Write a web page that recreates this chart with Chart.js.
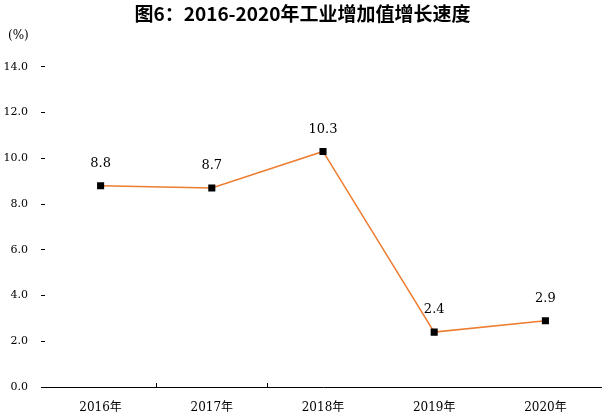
<!DOCTYPE html>
<html>
<head>
<meta charset="utf-8">
<script src="https://cdn.jsdelivr.net/npm/chart.js@4.4.1/dist/chart.umd.min.js"></script>
<style>
  body { margin: 0; background: #fff; }
  #box { width: 606px; height: 417px; }
</style>
</head>
<body>
<div id="box"><canvas id="myChart"></canvas></div>
<script>
// values
const years = ["2016年", "2017年", "2018年", "2019年", "2020年"];
const growth = [8.8, 8.7, 10.3, 2.4, 2.9];
const yTicks = [0, 2, 4, 6, 8, 10, 12, 14];

// value labels above each point, plus the unit at the top left
const valueLabels = {
	id: 'valueLabels',
	afterDatasetsDraw(chart) {
		const ctx = chart.ctx;
		const meta = chart.getDatasetMeta(0);
		ctx.save();
		ctx.font = '13px "DejaVu Serif"';
		ctx.fillStyle = '#000';
		ctx.textAlign = 'center';
		ctx.textBaseline = 'middle';
		meta.data.forEach(function(pt, i) {
			ctx.fillText(growth[i].toFixed(1), pt.x, pt.y - 22);
		});
		ctx.font = '12px "DejaVu Serif"';
		ctx.textAlign = 'left';
		ctx.fillText('(%)', 8, 36);
		ctx.restore();
	}
};

// the short upward ticks on the x axis, as in the original (only the first two show)
const innerTicks = {
	id: 'innerTicks',
	afterDraw(chart) {
		const x = chart.scales.x;
		const ctx = chart.ctx;
		ctx.save();
		ctx.strokeStyle = '#000';
		ctx.lineWidth = 1;
		for (let i = 0; i < 2; i++) {
			const px = Math.round((x.getPixelForValue(i) + x.getPixelForValue(i + 1)) / 2) + 0.5;
			ctx.beginPath();
			ctx.moveTo(px, x.top);
			ctx.lineTo(px, x.top - 4);
			ctx.stroke();
		}
		ctx.restore();
	}
};

const ctx = document.getElementById("myChart").getContext("2d");
const myChart = new Chart(ctx, {
	type: 'line',
	data: {
		labels: years,
		datasets: [{
			data: growth,
			borderColor: '#ED7D31',
			borderWidth: 1.5,
			tension: 0,
			pointStyle: 'rect',
			pointRadius: 5,
			pointHoverRadius: 5,
			pointBackgroundColor: '#000',
			pointBorderColor: '#000',
			pointBorderWidth: 0
		}]
	},
	options: {
		responsive: true,
		maintainAspectRatio: false,
		animation: false,
		layout: { padding: { top: 0, right: 1, bottom: 2, left: 0 } },
		plugins: {
			legend: { display: false },
			tooltip: { enabled: false },
			title: {
				display: true,
				text: '图6：2016-2020年工业增加值增长速度',
				color: '#000',
				font: { family: '"Noto Sans CJK SC"', size: 19, weight: 'bold' },
				padding: { top: 2, bottom: 42 }
			}
		},
		scales: {
			x: {
				offset: true,
				afterFit: function(scale) { scale.height = 28; },
				grid: { display: false, drawTicks: false },
				border: { display: true, color: '#000', width: 1 },
				ticks: {
					color: '#000',
					padding: 14,
					font: { family: '"DejaVu Serif", "Noto Sans CJK SC"', size: 12 }
				}
			},
			y: {
				min: 0,
				max: 14,
				afterFit: function(scale) { scale.width = 45; },
				afterBuildTicks: function(scale) {
					scale.ticks = yTicks.map(function(v) { return { value: v }; });
				},
				border: { display: false },
				grid: { drawOnChartArea: false, drawTicks: true, tickLength: 4, color: '#000' },
				ticks: {
					color: '#000',
					padding: 13,
					font: { family: '"DejaVu Serif"', size: 11 },
					callback: function(value) { return value.toFixed(1); }
				}
			}
		}
	},
	plugins: [valueLabels, innerTicks]
});
</script>
</body>
</html>
